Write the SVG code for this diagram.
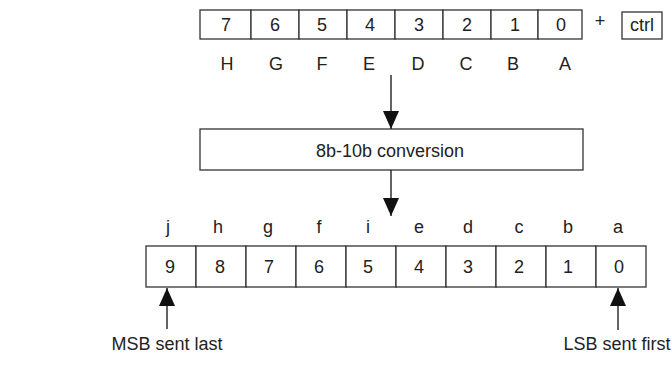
<svg xmlns="http://www.w3.org/2000/svg" width="672" height="372" viewBox="0 0 672 372">
<style>
  text { font-family: "Liberation Sans", Arial, sans-serif; font-size: 18px; fill: #222; text-anchor: middle; }
  .box { fill: #fff; stroke: #333; stroke-width: 1.3; }
  .conn { stroke: #222; stroke-width: 1.4; fill: none; marker-end: url(#ah); }
</style>
<defs>
  <marker id="ah" markerUnits="userSpaceOnUse" markerWidth="18" markerHeight="16" refX="18" refY="8" orient="auto">
    <path d="M0,0 L18,8 L0,16 z" fill="#111"/>
  </marker>
</defs>
<rect width="672" height="372" fill="#fff"/>

<g id="input-byte">
  <rect class="box" x="200" y="10" width="51" height="29"/>
  <rect class="box" x="251" y="10" width="48" height="29"/>
  <rect class="box" x="299" y="10" width="48" height="29"/>
  <rect class="box" x="347" y="10" width="48" height="29"/>
  <rect class="box" x="395" y="10" width="48" height="29"/>
  <rect class="box" x="443" y="10" width="48" height="29"/>
  <rect class="box" x="491" y="10" width="47" height="29"/>
  <rect class="box" x="538" y="10" width="44" height="29"/>
  <text x="226" y="31">7</text>
  <text x="275" y="31">6</text>
  <text x="322" y="31">5</text>
  <text x="370" y="31">4</text>
  <text x="419" y="31">3</text>
  <text x="467" y="31">2</text>
  <text x="515" y="31">1</text>
  <text x="561" y="31">0</text>
  <text x="227" y="70">H</text>
  <text x="276" y="70">G</text>
  <text x="322" y="70">F</text>
  <text x="369" y="70">E</text>
  <text x="418" y="70">D</text>
  <text x="466" y="70">C</text>
  <text x="513" y="70">B</text>
  <text x="565" y="70">A</text>
</g>

<g id="plus">
  <text x="600" y="27">+</text>
</g>

<g id="ctrl">
  <rect class="box" x="622" y="12" width="40" height="27"/>
  <text x="642" y="31">ctrl</text>
</g>

<g id="conversion">
  <rect class="box" x="200" y="129" width="383" height="41"/>
  <text x="390" y="157">8b-10b conversion</text>
</g>

<g id="output-code">
  <rect class="box" x="146" y="246" width="50" height="41"/>
  <rect class="box" x="196" y="246" width="50" height="41"/>
  <rect class="box" x="246" y="246" width="50" height="41"/>
  <rect class="box" x="296" y="246" width="50" height="41"/>
  <rect class="box" x="346" y="246" width="50" height="41"/>
  <rect class="box" x="396" y="246" width="50" height="41"/>
  <rect class="box" x="446" y="246" width="50" height="41"/>
  <rect class="box" x="496" y="246" width="50" height="41"/>
  <rect class="box" x="546" y="246" width="50" height="41"/>
  <rect class="box" x="596" y="246" width="50" height="41"/>
  <text x="170" y="273">9</text>
  <text x="220" y="273">8</text>
  <text x="269" y="273">7</text>
  <text x="319" y="273">6</text>
  <text x="368" y="273">5</text>
  <text x="419" y="273">4</text>
  <text x="468" y="273">3</text>
  <text x="519" y="273">2</text>
  <text x="568" y="273">1</text>
  <text x="619" y="273">0</text>
  <text x="168" y="233">j</text>
  <text x="218" y="233">h</text>
  <text x="268" y="233">g</text>
  <text x="319" y="233">f</text>
  <text x="368" y="233">i</text>
  <text x="419" y="233">e</text>
  <text x="468" y="233">d</text>
  <text x="519" y="233">c</text>
  <text x="568" y="233">b</text>
  <text x="618" y="233">a</text>
</g>

<g id="msb-label">
  <text x="167" y="350">MSB sent last</text>
</g>
<g id="lsb-label">
  <text x="617" y="350">LSB sent first</text>
</g>

<g id="connectors">
  <line class="conn" x1="391" y1="75" x2="391" y2="129"/>
  <line class="conn" x1="391" y1="170" x2="391" y2="216"/>
  <line class="conn" x1="167" y1="329" x2="167" y2="288"/>
  <line class="conn" x1="618" y1="330" x2="618" y2="288"/>
</g>
</svg>
